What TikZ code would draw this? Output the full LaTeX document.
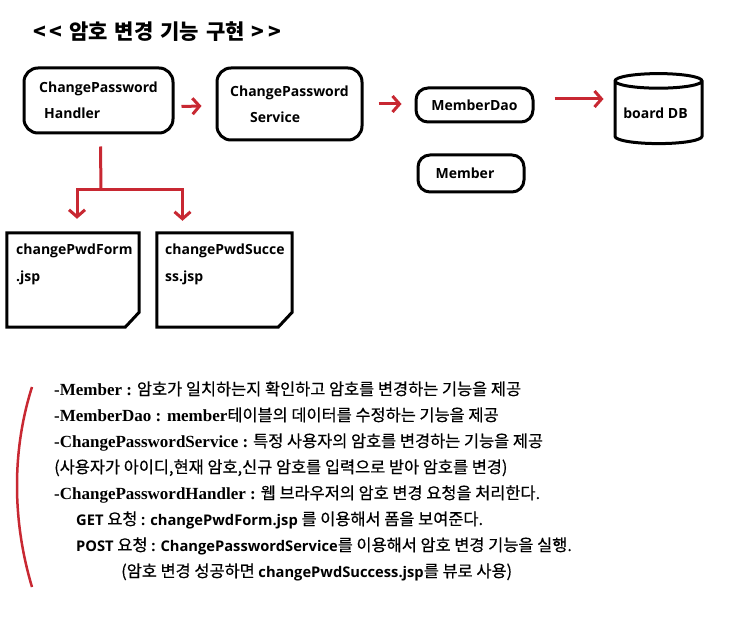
\documentclass[tikz,border=0pt]{standalone}
\usepackage{fontspec}
\usetikzlibrary{arrows.meta,shapes.geometric,calc}
\newfontfamily\kr{Noto Sans CJK KR}
\newfontfamily\krd{Noto Sans CJK KR}[RawFeature={embolden=0.5}]
\newfontfamily\lat{Open Sans}
\newfontfamily\ser{Liberation Serif}
\newcommand\lb[1]{{\lat\bfseries\fontsize{14.7}{19}\selectfont #1}}
\newcommand\sbold[1]{{\ser\bfseries\fontsize{17}{19}\selectfont #1}}
\definecolor{pen}{RGB}{200,40,50}
\tikzset{
  box/.style={draw, line width=3pt, rounded corners=14pt, inner sep=0pt,
    font=\lat\bfseries\fontsize{14}{26}\selectfont, align=left},
  doc/.style={inner sep=0pt},
  docline/.style={line width=3pt, line join=miter},
  doctext/.style={anchor=north west, inner sep=0pt, align=left,
    font=\lat\bfseries\fontsize{14}{27}\selectfont},
  redarrow/.style={draw=pen, line width=3pt, -{Straight Barb[length=7pt,width=16pt]}},
  desc/.style={anchor=base west, inner sep=0pt, font=\krd\fontsize{16.4}{19}\selectfont},
}
\begin{document}
\begin{tikzpicture}[x=1pt,y=-1pt]
\useasboundingbox (0,0) rectangle (731,644);
% title
\node[anchor=west, inner sep=0pt, font=\kr\bfseries\fontsize{21}{24}\selectfont] (title) at (33,32)
  {\spaceskip=7pt <\,< 암호 변경 기능 구현 >\,>};
% boxes
\node[box, minimum width=149pt, minimum height=65pt] (h) at (98.5,100.5) {ChangePassword\\\hspace*{5pt}Handler};
\node[box, minimum width=145pt, minimum height=72pt] (s) at (289.5,104) {ChangePassword\\\hspace*{20pt}Service};
\node[box, rounded corners=12pt, minimum width=117pt, minimum height=34pt] (dao) at (474.5,105) {MemberDao};
\node[box, rounded corners=12pt, minimum width=106pt, minimum height=37pt] (mem) at (471,173.5) {\hspace*{-12pt}Member};
\node[draw, line width=3pt, cylinder, shape border rotate=90, aspect=0.25, inner sep=0pt,
  minimum width=87pt, minimum height=70pt, font=\lat\bfseries\fontsize{14}{26}\selectfont] (db) at (658.5,113) {\hspace*{-6pt}board DB};
% arrows
\draw[redarrow] ($(h.east)+(7,6)$) -- ($(s.west)+(-14,2)$);
\draw[redarrow] ($(s.east)+(15,0)$) -- ($(dao.west)+(-13,-1)$);
\draw[redarrow] ($(dao.east)+(20,-6)$) -- ($(db.west)+(-10,-14)$);
% documents
\node[doc, minimum width=132pt, minimum height=94pt] (form) at (73,280) {};
\node[doc, minimum width=135pt, minimum height=94pt] (succ) at (224.5,280) {};
\draw[docline] (form.north west) -- (form.north east) -- ([yshift=15pt]form.south east)
  -- ([xshift=-14pt]form.south east) -- (form.south west) -- cycle;
\draw[docline] (succ.north west) -- (succ.north east) -- ([yshift=15pt]succ.south east)
  -- ([xshift=-14pt]succ.south east) -- (succ.south west) -- cycle;
\node[doctext] (formtxt) at (16,244) {changePwdForm\\.jsp};
\node[doctext] (succtxt) at (165,244) {changePwdSucce\\ss.jsp};
% tree connector
\coordinate (t0) at ($(h.south)+(2,12)$);
\coordinate (tj) at (101,190);
\coordinate (fa) at ($(form.north)+(4,-14)$);
\coordinate (sa) at ($(succ.north)+(-42,-12)$);
\draw[draw=pen, line width=3pt] (t0) -- (tj);
\draw[redarrow] (tj) -| (fa);
\draw[redarrow] (tj) -| (sa);
% red bracket curve
\draw[pen, line width=2.5pt] (32,387) .. controls (12,450) and (12,520) .. (32,587);
% description
\node[desc] (l1) at (54,395) {\sbold{-Member :} 암호가 일치하는지 확인하고 암호를 변경하는 기능을 제공};
\node[desc] (l2) at (54,421) {\sbold{-MemberDao : member}테이블의 데이터를 수정하는 기능을 제공};
\node[desc] (l3) at (54,447) {\sbold{-ChangePasswordService :} 특정 사용자의 암호를 변경하는 기능을 제공};
\node[desc] (l4) at (54,473) {(사용자가 아이디,현재 암호,신규 암호를 입력으로 받아 암호를 변경)};
\node[desc] (l5) at (54,499) {\sbold{-ChangePasswordHandler :} 웹 브라우저의 암호 변경 요청을 처리한다.};
\node[desc] (l6) at (76,525) {\lb{GET} 요청 \lb{: changePwdForm.jsp} 를 이용해서 폼을 보여준다.};
\node[desc] (l7) at (76,551) {\lb{POST} 요청 \lb{: ChangePasswordService}를 이용해서 암호 변경 기능을 실행.};
\node[desc] (l8) at (121,577) {(암호 변경 성공하면 \lb{changePwdSuccess.jsp}를 뷰로 사용)};
\end{tikzpicture}
\end{document}
